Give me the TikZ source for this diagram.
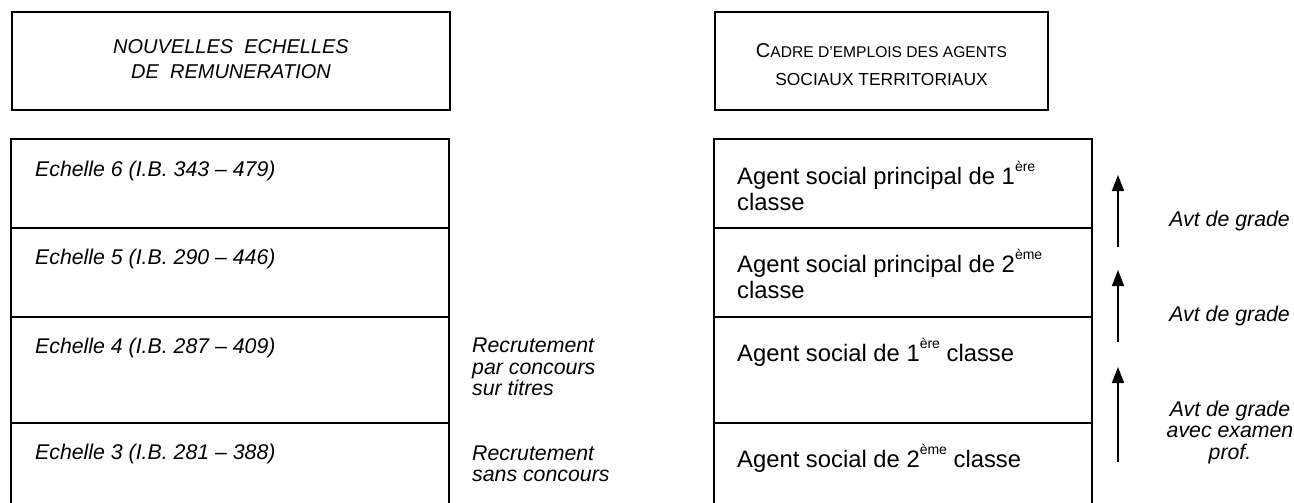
\documentclass[tikz,border=0pt]{standalone}
\usepackage{fontspec}
\setmainfont{Liberation Sans}
\usetikzlibrary{arrows.meta}
\newcommand{\supx}[1]{\raisebox{0.55em}{\fontsize{14}{14}\selectfont #1}}
\begin{document}
\begin{tikzpicture}[x=1pt,y=-1pt,
  frame/.style={draw,line width=2pt},
  it/.style={font=\fontsize{21.3}{21.5}\selectfont\itshape, inner sep=0pt, align=left, anchor=west},
  rm/.style={font=\fontsize{23.8}{26}\selectfont, inner sep=0pt, align=left, anchor=west},
  up/.style={-{Triangle[width=12pt,length=16pt]}, line width=1.6pt}]
\useasboundingbox (0,0) rectangle (1294,503);
% header boxes
\node[frame, minimum width=438pt, minimum height=98pt, anchor=north west, inner sep=0pt] (hl) at (11,11) {};
\node[font=\fontsize{20}{25}\selectfont\itshape, align=center] (hlt) at ([yshift=2pt]hl.center) {NOUVELLES\ \ ECHELLES\\DE\ \ REMUNERATION};
\node[frame, minimum width=333pt, minimum height=98pt, anchor=north west, inner sep=0pt] (hr) at (714,11) {};
\node[align=center, font=\fontsize{15.6}{28}\selectfont] (hrt) at ([yshift=-4pt]hr.center) {{\fontsize{20}{28}\selectfont C}ADRE D’EMPLOIS DES AGENTS\\{\fontsize{17.4}{28}\selectfont SOCIAUX TERRITORIAUX}};
% left stack
\draw[line width=2pt] (11,503) -- (11,139) -- (449,139) -- (449,503);
\draw[line width=2pt] (11,228) -- (449,228) (11,317) -- (449,317) (11,423) -- (449,423);
% right stack
\draw[line width=2pt] (714,503) -- (714,139) -- (1092,139) -- (1092,503);
\draw[line width=2pt] (714,228) -- (1092,228) (714,317) -- (1092,317) (714,423) -- (1092,423);
% left labels
\node[it] (e6) at (35,171) {Echelle 6 (I.B. 343 – 479)};
\node[it] (e5) at (35,259) {Echelle 5 (I.B. 290 – 446)};
\node[it] (e4) at (35,348) {Echelle 4 (I.B. 287 – 409)};
\node[it] (e3) at (35,454) {Echelle 3 (I.B. 281 – 388)};
% middle labels
\node[it] (r1) at (472,367) {Recrutement\\par concours\\sur titres};
\node[it] (r2) at (472,464) {Recrutement\\sans concours};
% right labels
\node[rm] (g1) at (737,186) {Agent social principal de 1\supx{ère}\\classe};
\node[rm] (g2) at (737,274) {Agent social principal de 2\supx{ème}\\classe};
\node[rm] (g3) at (737,352) {Agent social de 1\supx{ère} classe};
\node[rm] (g4) at (737,458) {Agent social de 2\supx{ème} classe};
% arrows
\coordinate (a1s) at (1118,247); \coordinate (a1e) at (1118,175);
\coordinate (a2s) at (1118,342); \coordinate (a2e) at (1118,270);
\coordinate (a3s) at (1118,462); \coordinate (a3e) at (1118,367);
\draw[up] (a1s) -- (a1e);
\draw[up] (a2s) -- (a2e);
\draw[up] (a3s) -- (a3e);
\node[it, anchor=east] (t1) at (1290,221) {Avt de grade};
\node[it, anchor=east] (t2) at (1290,316) {Avt de grade};
\node[it, align=center, anchor=center] (t3) at (1230,432) {Avt de grade\\avec examen\\prof.};
\end{tikzpicture}
\end{document}
